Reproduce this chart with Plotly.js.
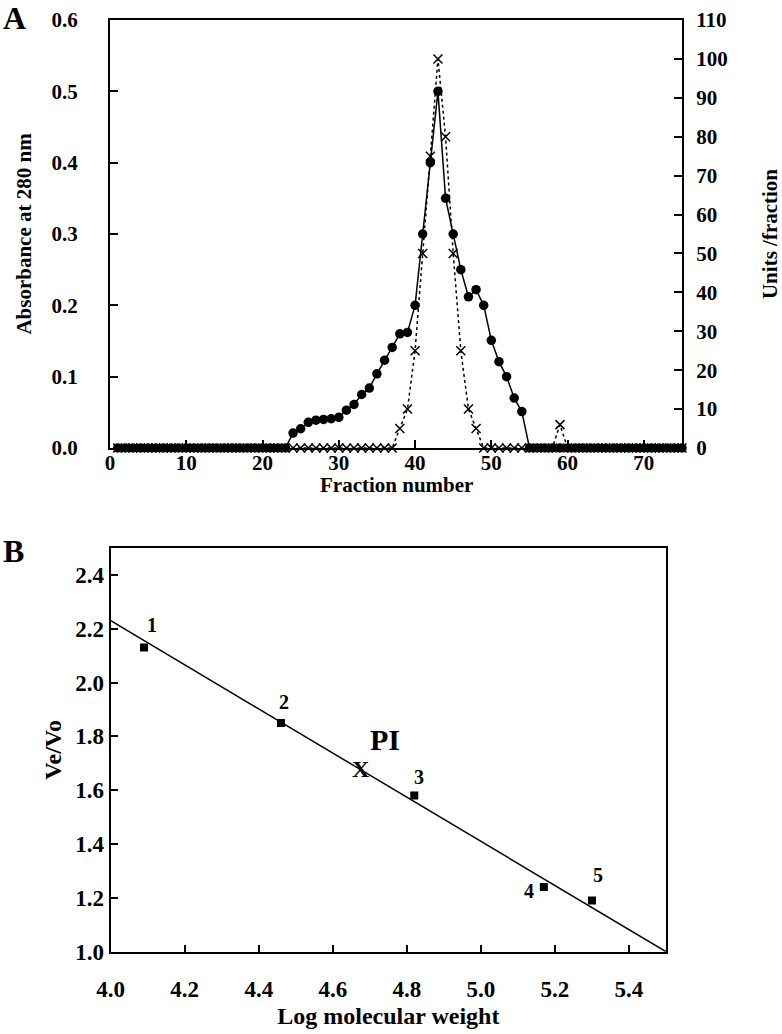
<!DOCTYPE html>
<html>
<head>
<meta charset="utf-8">
<script src="https://cdn.plot.ly/plotly-3.0.1.min.js"></script>
<style>
  html, body { margin: 0; padding: 0; background: #fff; }
  #chart { width: 782px; height: 1034px; }
</style>
</head>
<body>
<div id="chart"></div>
<script>
// Panel A: gel filtration profile
const fractions = [
  1, 2, 3, 4, 5, 6, 7, 8, 9, 10, 11, 12, 13, 14, 15, 16, 17, 18, 19, 20,
  21, 22, 23, 24, 25, 26, 27, 28, 29, 30, 31, 32, 33, 34, 35, 36, 37, 38, 39, 40,
  41, 42, 43, 44, 45, 46, 47, 48, 49, 50, 51, 52, 53, 54, 55, 56, 57, 58, 59, 60,
  61, 62, 63, 64, 65, 66, 67, 68, 69, 70, 71, 72, 73, 74, 75
];
const absorbance = [
  0, 0, 0, 0, 0, 0, 0, 0, 0, 0, 0, 0, 0, 0, 0, 0, 0, 0, 0, 0,
  0, 0, 0, 0.021, 0.027, 0.036, 0.039, 0.040, 0.041, 0.043, 0.053, 0.061, 0.075, 0.084, 0.104, 0.123, 0.141, 0.160, 0.162, 0.200,
  0.300, 0.400, 0.500, 0.350, 0.300, 0.250, 0.212, 0.222, 0.200, 0.151, 0.121, 0.100, 0.070, 0.051, 0, 0, 0, 0, 0, 0,
  0, 0, 0, 0, 0, 0, 0, 0, 0, 0, 0, 0, 0, 0, 0
];
const units = [
  0, 0, 0, 0, 0, 0, 0, 0, 0, 0, 0, 0, 0, 0, 0, 0, 0, 0, 0, 0,
  0, 0, 0, 0, 0, 0, 0, 0, 0, 0, 0, 0, 0, 0, 0, 0, 0, 5, 10, 25,
  50, 75, 100, 80, 50, 25, 10, 5, 0, 0, 0, 0, 0, 0, 0, 0, 0, 0, 6, 0,
  0, 0, 0, 0, 0, 0, 0, 0, 0, 0, 0, 0, 0, 0, 0
];

// Panel B: calibration
const stdLogMW = [4.09, 4.46, 4.82, 5.17, 5.30];
const stdVeVo = [2.13, 1.85, 1.58, 1.24, 1.19];
const stdLabels = ['1', '2', '3', '4', '5'];
const fitX = [4.0, 5.5];
const fitY = [2.23, 1.0];
const piLogMW = [4.675];
const piVeVo = [1.671];

const serif = '"Liberation Serif", serif';
const bold = (size) => ({ family: serif, size: size, color: '#000', weight: 'bold' });

const absTrace = {
  x: fractions, y: absorbance,
  xaxis: 'x', yaxis: 'y',
  mode: 'lines+markers',
  line: { color: '#000', width: 1.5 },
  marker: { symbol: 'circle', size: 9.5, color: '#000' },
  cliponaxis: false
};

const unitTrace = {
  x: fractions, y: units,
  xaxis: 'x', yaxis: 'y2',
  mode: 'lines+markers',
  line: { color: '#000', width: 1.5, dash: 'dot' },
  marker: { symbol: 'x-thin', size: 9, color: '#000', line: { color: '#000', width: 1.5 } },
  cliponaxis: false
};

const fitTrace = {
  x: fitX, y: fitY,
  xaxis: 'x2', yaxis: 'y3',
  mode: 'lines',
  line: { color: '#000', width: 1.5 },
  cliponaxis: false
};

const stdTrace = {
  x: stdLogMW, y: stdVeVo,
  xaxis: 'x2', yaxis: 'y3',
  mode: 'markers',
  marker: { symbol: 'square', size: 8, color: '#000' }
};

const piTrace = {
  x: piLogMW, y: piVeVo,
  xaxis: 'x2', yaxis: 'y3',
  mode: 'text',
  text: ['X'],
  textposition: 'middle center',
  textfont: bold(24)
};

// label offsets in pixels, relative to each point
const labelShift = [[8, 23], [3, 21], [5, 19], [-15, -4], [6, 26]];
const annotations = stdLogMW.map((x, i) => ({
  x: x, y: stdVeVo[i], xref: 'x2', yref: 'y3',
  text: stdLabels[i], showarrow: false,
  xshift: labelShift[i][0], yshift: labelShift[i][1],
  font: bold(20)
}));
annotations.push({
  x: piLogMW[0], y: piVeVo[0], xref: 'x2', yref: 'y3',
  text: 'PI', showarrow: false, xshift: 24, yshift: 32,
  font: bold(30)
});
annotations.push({
  x: 14 / 782, y: 1 - 18 / 1034, xref: 'paper', yref: 'paper',
  xanchor: 'center', yanchor: 'middle',
  text: 'A', showarrow: false, font: bold(32)
});
annotations.push({
  x: 13 / 782, y: 1 - 551 / 1034, xref: 'paper', yref: 'paper',
  xanchor: 'center', yanchor: 'middle',
  text: 'B', showarrow: false, font: bold(32)
});
// x title of panel A sits tight under its tick labels
annotations.push({
  x: 396 / 782, y: 1 - 485 / 1034, xref: 'paper', yref: 'paper',
  xanchor: 'center', yanchor: 'middle',
  text: 'Fraction number', showarrow: false, font: bold(21)
});

const axisBase = {
  showline: true, linecolor: '#000', linewidth: 2,
  ticks: 'inside', tickcolor: '#000', tickwidth: 2, ticklen: 8,
  showgrid: false, zeroline: false,
  tickfont: bold(21)
};

const layout = {
  width: 782, height: 1034,
  margin: { l: 0, r: 0, t: 0, b: 0 },
  paper_bgcolor: '#fff', plot_bgcolor: '#fff',
  font: bold(20),
  showlegend: false,
  xaxis: Object.assign({}, axisBase, {
    domain: [110 / 782, 682 / 782], anchor: 'y',
    range: [0, 75], tick0: 0, dtick: 10, mirror: true,
    ticklabelstandoff: -5
  }),
  yaxis: Object.assign({}, axisBase, {
    domain: [1 - 448 / 1034, 1 - 20 / 1034], anchor: 'x',
    range: [0, 0.6], dtick: 0.1, tickformat: '.1f',
    ticklabelstandoff: 26,
    title: { text: 'Absorbance at 280 nm', font: bold(21), standoff: 14 }
  }),
  yaxis2: Object.assign({}, axisBase, {
    overlaying: 'y', side: 'right', anchor: 'x',
    range: [0, 110], dtick: 10,
    ticklabelstandoff: 8,
    title: { text: 'Units /fraction', font: bold(21), standoff: 41 }
  }),
  xaxis2: Object.assign({}, axisBase, {
    domain: [110.7 / 782, 666 / 782], anchor: 'y3',
    range: [4.0, 5.5], dtick: 0.2, tick0: 0, tickformat: '.1f', mirror: true,
    ticklen: 7, tickfont: bold(23), ticklabelstandoff: 16,
    title: { text: 'Log molecular weight', font: bold(24), standoff: 6 }
  }),
  yaxis3: Object.assign({}, axisBase, {
    domain: [1 - 951.7 / 1034, 1 - 548 / 1034], anchor: 'x2',
    range: [1.0, 2.5], dtick: 0.2, tick0: 0, tickformat: '.1f', mirror: true,
    ticklen: 7, tickfont: bold(23),
    title: { text: 'Ve/Vo', font: bold(24), standoff: 7 }
  }),
  annotations: annotations
};

Plotly.newPlot('chart', [absTrace, unitTrace, fitTrace, stdTrace, piTrace], layout, { displayModeBar: false, staticPlot: true })
  .catch(err => console.error('Error plotting:', err));
</script>
</body>
</html>
